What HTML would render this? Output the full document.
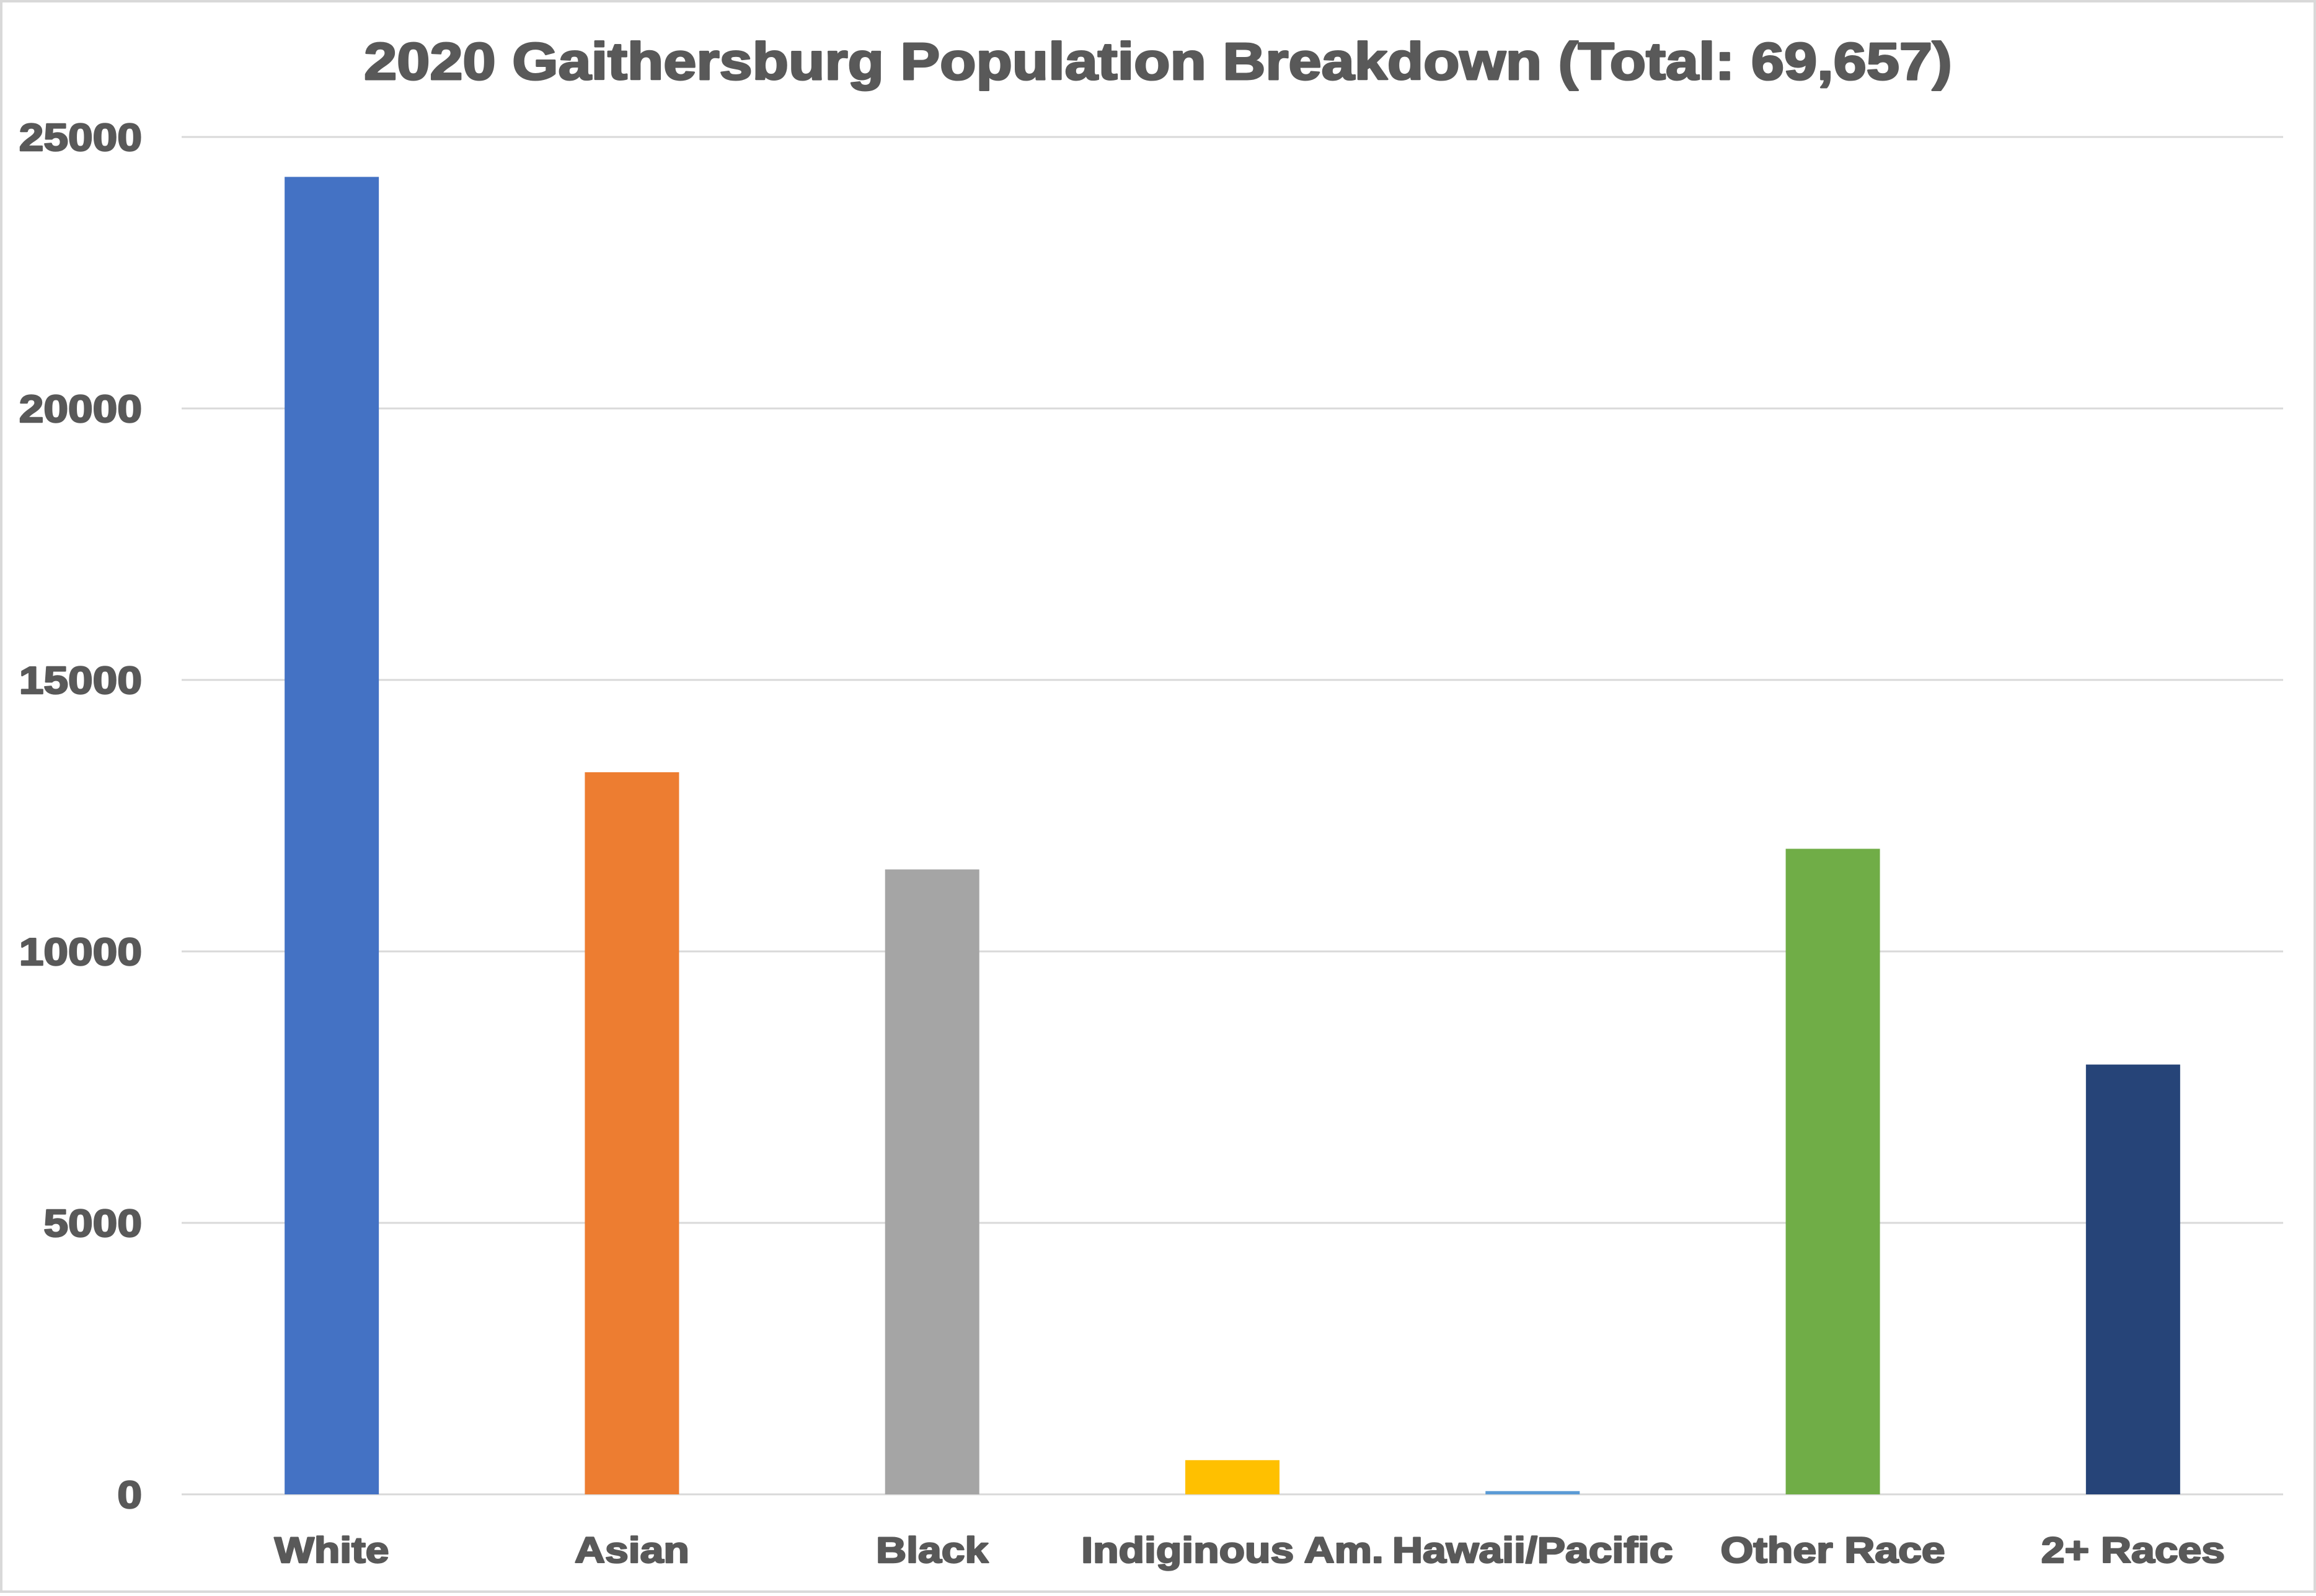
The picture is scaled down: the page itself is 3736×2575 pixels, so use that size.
<!DOCTYPE html>
<html><head><meta charset="utf-8"><style>
html,body{margin:0;padding:0;background:#fff}
svg text{font-family:"Liberation Sans",Arial,sans-serif;font-weight:bold;fill:#595959;stroke:#595959;stroke-linejoin:round}
</style></head><body>
<svg id="chart" width="3736" height="2570" viewBox="0 0 3736 2570" xmlns="http://www.w3.org/2000/svg">
<rect x="2" y="2" width="3732" height="2566" fill="#fff" stroke="#d9d9d9" stroke-width="4"/>
<text id="title" x="1868" y="128" font-size="84" stroke-width="3" text-anchor="middle">2020 Gaithersburg Population Breakdown (Total: 69,657)</text>
<g id="grid"></g>
<g id="yticks"></g>
<g id="bars"></g>
<g id="xlabels"></g>
</svg>
<script>
const categories = ["White","Asian","Black","Indiginous Am.","Hawaii/Pacific","Other Race","2+ Races"];
const values = [24265,13300,11510,630,60,11890,7916];
const colors = ["#4472C4","#ED7D31","#A5A5A5","#FFC000","#5B9BD5","#70AD47","#264478"];
const yTicks = [0,5000,10000,15000,20000,25000];
const NS="http://www.w3.org/2000/svg";
const x0=293,x1=3683,y0=2411,yTop=221,yMax=25000;
const band=(x1-x0)/categories.length, bw=152;
function yScale(v){return y0-(v/yMax)*(y0-yTop);}
function xCenter(i){return x0+band*(i+0.5);}
function mk(tag,attrs,parent){const e=document.createElementNS(NS,tag);for(const k in attrs)e.setAttribute(k,attrs[k]);parent.appendChild(e);return e;}
function widen(t,f){const w=t.getComputedTextLength();t.setAttribute('textLength',w*f);t.setAttribute('lengthAdjust','spacingAndGlyphs');}
const grid=document.getElementById('grid'),yt=document.getElementById('yticks'),bars=document.getElementById('bars'),xl=document.getElementById('xlabels');
yTicks.forEach(t=>{
  const y=yScale(t);
  const l=mk('line',{x1:x0,x2:x1,y1:y,y2:y,stroke:'#d9d9d9','stroke-width':3},grid);
  
  
  const tx=mk('text',{x:229,y:y+22,'font-size':62,'stroke-width':2.5,'text-anchor':'end'},yt);
  tx.textContent=t;
  
  
  widen(tx,1.15);
});
categories.forEach((c,i)=>{
  const cx=xCenter(i),y=yScale(values[i]);
  const r=mk('rect',{x:cx-bw/2,y:y,width:bw,height:y0-y,fill:colors[i],stroke:'none'},bars);
  
  
  const t=mk('text',{x:cx,y:2521,'font-size':58,'stroke-width':2.5,'text-anchor':'middle'},xl);
  t.textContent=c;
  
  
  widen(t,1.17);
});
widen(document.getElementById('title'),1.137);
</script>
</body></html>
